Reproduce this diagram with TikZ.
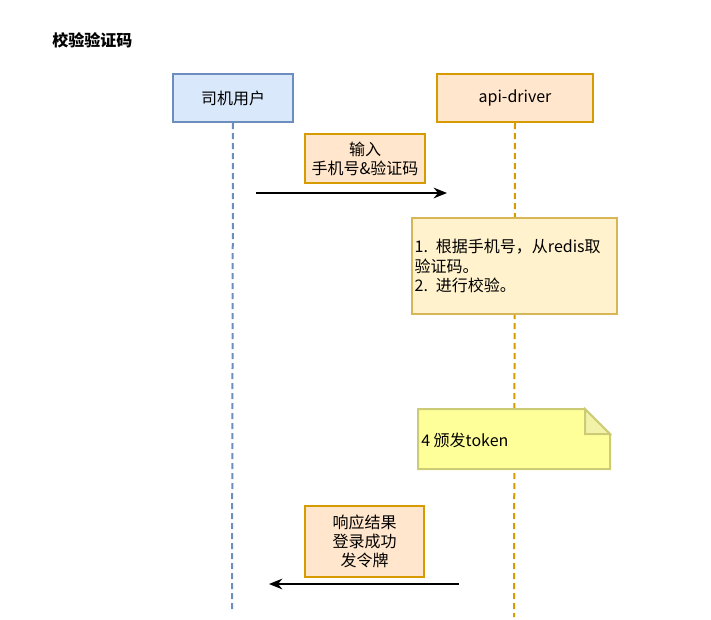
\documentclass[tikz,border=0pt]{standalone}
\usepackage{fontspec}
\setmainfont{Noto Sans CJK SC}
\usetikzlibrary{arrows.meta,positioning}
\definecolor{userfill}{HTML}{DAE8FC}
\definecolor{userline}{HTML}{6C8EBF}
\definecolor{apifill}{HTML}{FFE6CC}
\definecolor{apiline}{HTML}{D79B00}
\definecolor{notefill}{HTML}{FFF2CC}
\definecolor{noteline}{HTML}{D6B656}
\definecolor{stickyfill}{HTML}{FFFF99}
\definecolor{stickyline}{HTML}{CCCC77}
\definecolor{stickyfold}{HTML}{F2F2A8}
\tikzset{
  actor/.style={
    draw=#1line, fill=#1fill, line width=1.5pt,
    anchor=north west, minimum height=36pt,
    align=center, font=\fontsize{12}{14.4}\selectfont
  },
  msgbox/.style={
    draw=apiline, fill=apifill, line width=1.5pt,
    anchor=north west, inner sep=1pt,
    align=center, font=\fontsize{12}{14.4}\selectfont
  },
  lifeline/.style={
    draw=#1line, line width=1.5pt,
    dash pattern=on 4.5pt off 3pt
  },
  msg/.style={
    line width=1.5pt, -{Stealth[length=10pt,width=8pt]}
  }
}

\begin{document}
\begin{tikzpicture}[x=0.75pt,y=-0.75pt]
\useasboundingbox (0,0) rectangle (711,619);
% title
\node[anchor=west, inner sep=0pt, font=\fontsize{12}{14.4}\selectfont\bfseries]
  (title) at (52,40) {校验验证码};
% actors
\node[actor=user, minimum width=90pt] (user) at (172,73) {司机用户};
\node[actor=api, minimum width=117pt] (api) at (436,73) {api-driver};
% lifelines
\coordinate (userend) at (232,612);
\coordinate (apiend) at (514,617);
\draw[lifeline=user] (user.south) -- (userend);
\draw[lifeline=api] (api.south) -- (apiend);
% request
\node[msgbox, minimum width=90pt, minimum height=36.75pt] (req) at (304,133)
  {输入\\手机号\&验证码};
\coordinate (reqstart) at (256,193);
\coordinate (reqend) at (447,193);
\draw[msg] (reqstart) -- (reqend);
% check note
\node[draw=noteline, fill=notefill, line width=1.5pt, anchor=north west,
  minimum width=153.75pt, minimum height=72pt, text width=150pt,
  inner xsep=2pt, align=left, font=\fontsize{12}{14.4}\selectfont]
  (check) at (411,217)
  {1. 根据手机号，从redis取\\验证码。\\2. 进行校验。};
% token note
\draw[draw=stickyline, fill=stickyfill, line width=1.5pt]
  (418,409) -- (585,409) -- (610,434) -- (610,469) -- (418,469) -- cycle;
\draw[draw=stickyline, fill=stickyfold, line width=1.5pt]
  (585,409) -- (585,434) -- (610,434) -- cycle;
\node[anchor=west, inner sep=0pt, font=\fontsize{12}{14.4}\selectfont]
  (token) at (421,440) {4 颁发token};
% response
\node[msgbox, minimum width=89.25pt, minimum height=53.25pt] (resp) at (304,505)
  {响应结果\\登录成功\\发令牌};
\coordinate (respstart) at (459,584);
\coordinate (respend) at (269,584);
\draw[msg] (respstart) -- (respend);
\end{tikzpicture}
\end{document}
